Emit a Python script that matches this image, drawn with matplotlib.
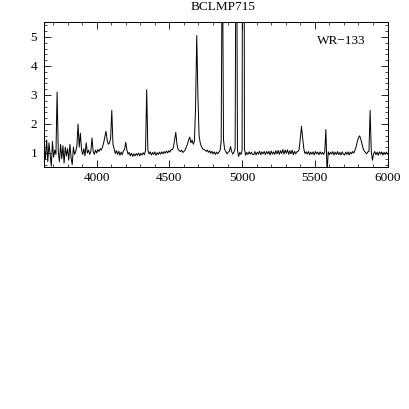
"""
Optical spectrum of BCLMP715 (WR-133), normalised flux vs wavelength.
"""

import numpy as np
import matplotlib
matplotlib.use("Agg")
import matplotlib.pyplot as plt
from matplotlib.ticker import MultipleLocator

plt.rcParams.update({
    "font.family": ["Liberation Serif", "DejaVu Serif"],
    "font.size": 9.5,
    "axes.linewidth": 0.7,
    "xtick.direction": "in",
    "ytick.direction": "in",
    "xtick.top": True,
    "ytick.right": True,
    "figure.facecolor": "white",
})

# ---------------------------------------------------------------------------
# Data: flux sampled every 8 A starting at 3640 A
# ---------------------------------------------------------------------------
WAVE_START = 3640
WAVE_STEP = 8

flux = [
    # 3640 - 3712
    1.20, 0.80, 1.45, 0.70, 1.35, 0.95, 0.55, 1.40, 0.85, 1.10,
    # 3720 - 3792
    0.95, 3.10, 1.05, 0.70, 1.30, 0.80, 1.25, 0.65, 1.20, 0.90,
    # 3800 - 3872
    1.15, 0.75, 1.30, 0.85, 0.60, 1.20, 0.95, 1.05, 1.25, 2.00,
    # 3880 - 3952
    1.20, 1.68, 1.10, 0.95, 1.15, 0.90, 1.35, 1.00, 1.10, 0.95,
    # 3960 - 4032
    1.05, 1.52, 1.05, 0.95, 1.10, 1.00, 1.12, 1.05, 1.15, 1.10,
    # 4040 - 4112
    1.20, 1.35, 1.55, 1.75, 1.45, 1.30, 1.35, 1.50, 2.47, 1.30,
    # 4120 - 4192
    1.15, 0.98, 1.08, 0.95, 1.06, 0.92, 1.03, 0.94, 1.08, 1.12,
    # 4200 - 4272
    1.37, 1.10, 0.96, 1.02, 0.90, 0.99, 0.88, 0.97, 0.90, 0.98,
    # 4280 - 4352
    0.92, 1.00, 0.90, 0.99, 0.93, 1.01, 0.94, 1.08, 3.18, 1.10,
    # 4360 - 4432
    0.97, 1.04, 0.93, 1.02, 0.95, 1.04, 0.92, 1.01, 0.95, 1.03,
    # 4440 - 4512
    0.96, 1.04, 0.97, 1.05, 0.99, 1.07, 1.00, 1.08, 1.03, 1.12,
    # 4520 - 4592
    1.12, 1.20, 1.45, 1.71, 1.30, 1.12, 1.08, 1.05, 1.10, 1.02,
    # 4600 - 4672
    1.05, 1.10, 1.20, 1.30, 1.45, 1.55, 1.35, 1.45, 1.30, 1.40,
    # 4680 - 4752
    2.60, 5.05, 3.00, 1.60, 1.35, 1.22, 1.15, 1.12, 1.10, 1.06,
    # 4760 - 4832
    1.10, 1.02, 1.08, 0.99, 1.06, 0.97, 1.04, 0.95, 1.03, 0.97,
    # 4840 - 4912
    1.03, 1.08, 1.40, 9.00, 1.45, 1.12, 1.05, 0.97, 1.03, 1.05,
    # 4920 - 4992
    1.22, 1.05, 0.96, 1.03, 1.15, 12.0, 1.10, 0.88, 1.02, 0.95,
    # 5000 - 5072
    1.10, 30.0, 1.15, 0.92, 1.02, 0.95, 1.04, 0.96, 1.03, 0.94,
    # 5080 - 5152
    0.95, 1.05, 0.93, 1.03, 0.96, 1.06, 0.94, 1.04, 0.97, 1.05,
    # 5160 - 5232
    0.94, 1.05, 0.97, 1.06, 0.93, 1.07, 0.96, 1.04, 0.95, 1.08,
    # 5240 - 5312
    0.97, 1.09, 0.95, 1.08, 0.98, 1.12, 0.96, 1.10, 0.99, 1.11,
    # 5320 - 5392
    0.95, 1.08, 0.97, 1.10, 0.94, 1.06, 0.97, 1.04, 1.05, 1.12,
    # 5400 - 5472
    1.50, 1.92, 1.55, 1.15, 0.98, 1.04, 0.96, 1.05, 0.94, 1.03,
    # 5480 - 5552
    0.96, 1.04, 0.93, 1.05, 0.97, 1.03, 0.94, 1.04, 0.96, 1.02,
    # 5560 - 5632
    0.95, 1.04, 1.81, 0.30, 1.04, 0.94, 1.03, 0.96, 1.05, 0.93,
    # 5640 - 5712
    1.03, 0.95, 1.05, 0.94, 1.02, 0.93, 1.04, 0.96, 0.93, 1.03,
    # 5720 - 5792
    0.95, 1.04, 0.93, 1.03, 0.97, 1.05, 1.00, 1.10, 1.22, 1.40,
    # 5800 - 5872
    1.52, 1.59, 1.48, 1.32, 1.15, 1.06, 1.02, 0.97, 1.04, 1.05,
    # 5880 - 5952
    2.47, 1.05, 0.75, 0.98, 1.05, 0.94, 1.03, 0.92, 1.04, 0.96,
    # 5960 - 6000
    1.04, 0.93, 1.02, 0.95, 1.03, 0.96,
]
wave = WAVE_START + WAVE_STEP * np.arange(len(flux))

OBJECT_NAME = "BCLMP715"
STAR_LABEL = "WR\u2212133"


def plot_spectrum():
    fig = plt.figure(figsize=(4.09, 4.09), dpi=100)
    ax = fig.add_axes([0.1076, 0.5905, 0.8400, 0.3545])

    ax.plot(wave, flux, color="black", linewidth=0.7)

    ax.set_xlim(3638, 6000)
    ax.set_ylim(0.5, 5.5)
    ax.xaxis.set_major_locator(MultipleLocator(500))
    ax.xaxis.set_minor_locator(MultipleLocator(100))
    ax.yaxis.set_major_locator(MultipleLocator(1))
    ax.yaxis.set_minor_locator(MultipleLocator(0.2))
    ax.tick_params(which="major", length=5, width=0.6, labelsize=9.5)
    ax.tick_params(which="minor", length=2.5, width=0.5)
    ax.tick_params(axis="x", which="major", pad=3.5)
    ax.tick_params(axis="y", which="major", pad=5)

    ax.text(0.935, 0.87, STAR_LABEL, transform=ax.transAxes,
            ha="right", va="center", fontsize=9.5)
    fig.text(223 / 409, 1 - 7 / 409, OBJECT_NAME, ha="center", va="center",
             fontsize=9.5)

    fig.savefig("out.png", dpi=100)
    plt.close(fig)


if __name__ == "__main__":
    plot_spectrum()
